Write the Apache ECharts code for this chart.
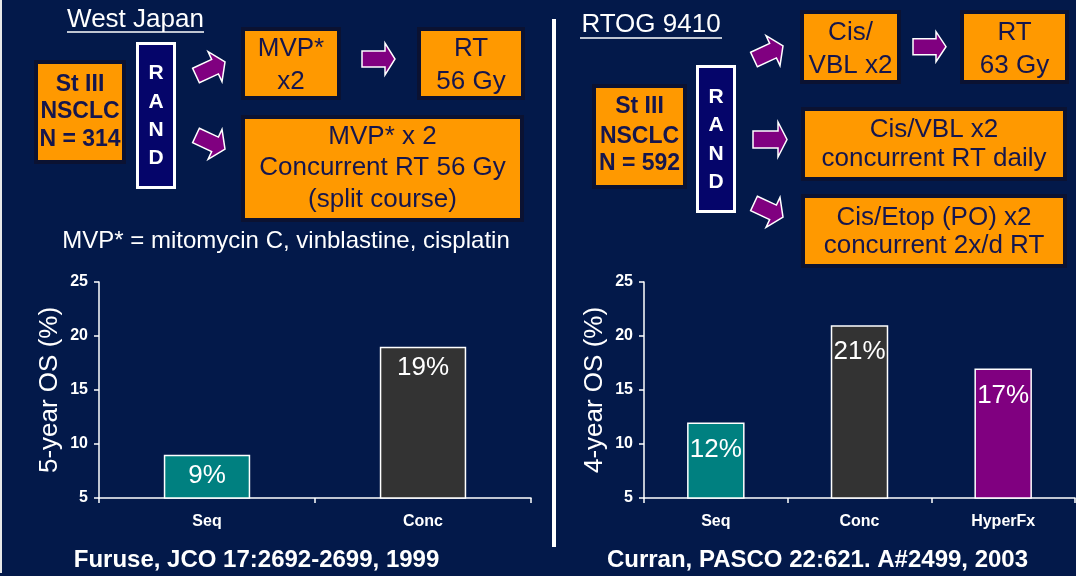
<!DOCTYPE html>
<html>
<head>
<meta charset="utf-8">
<script src="https://cdn.jsdelivr.net/npm/echarts@6/dist/echarts.min.js"></script>
<style>
  html, body { margin: 0; padding: 0; background: #03194a; }
  #chart-container { width: 1076px; height: 576px; }
</style>
</head>
<body>
<div id="chart-container"></div>
<script>
// data
var westCats = ['Seq', 'Conc'];
var westOS = [9, 19];
var rtogCats = ['Seq', 'Conc', 'HyperFx'];
var rtogOS = [12, 21, 17];
var barColors = ['#008080', '#333333', '#800080'];
var yMin = 5, yMax = 25, yStep = 5;

var FONT = 'Arial, "Liberation Sans", sans-serif';
var ORANGE = '#ff9900';
var INK = '#15164d';

var dom = document.getElementById('chart-container');
var myChart = echarts.init(dom, null, { renderer: 'canvas', useDirtyRect: false });

var graphics = [];

function txt(x, y, s, size, color, bold) {
    graphics.push({
        type: 'text', x: x, y: y,
        style: { text: s, fill: color, font: (bold ? 'bold ' : '') + size + 'px ' + FONT,
                 align: 'center', verticalAlign: 'middle' }
    });
}

function box(x, y, w, h, lines, ys, bold, size) {
    graphics.push({
        type: 'rect', shape: { x: x, y: y, width: w, height: h },
        style: { fill: ORANGE, stroke: '#0b1232', lineWidth: 4 }
    });
    for (var i = 0; i < lines.length; i++) {
        txt(x + w / 2, ys[i], lines[i], size, INK, bold);
    }
}

function rand(x, y, w, h, ys) {
    graphics.push({
        type: 'rect', shape: { x: x, y: y, width: w, height: h },
        style: { fill: '#05056a', stroke: '#ffffff', lineWidth: 3 }
    });
    var letters = ['R', 'A', 'N', 'D'];
    for (var i = 0; i < 4; i++) txt(x + w / 2, ys[i], letters[i], 21, '#ffffff', true);
}

// block arrow: tail middle at (tx,ty), length, angle in degrees (clockwise on screen)
function arrow(tx, ty, len, deg, sh, hh, hl) {
    var a = deg * Math.PI / 180, c = Math.cos(a), s = Math.sin(a);
    var local = [[0, -sh], [len - hl, -sh], [len - hl, -hh], [len, 0], [len - hl, hh], [len - hl, sh], [0, sh]];
    var pts = local.map(function (p) {
        return [tx + p[0] * c - p[1] * s, ty + p[0] * s + p[1] * c];
    });
    graphics.push({
        type: 'polygon', shape: { points: pts },
        style: { fill: '#800080', stroke: '#ffffff', lineWidth: 1.5 }
    });
}

function underlined(cx, y, s, uy, half) {
    txt(cx, y, s, 26, '#ffffff', false);
    graphics.push({
        type: 'line', shape: { x1: cx - half, y1: uy, x2: cx + half, y2: uy },
        style: { stroke: '#ffffff', lineWidth: 1.5 }
    });
}

// frame lines
graphics.push({ type: 'rect', shape: { x: 0, y: 0, width: 2, height: 573 }, style: { fill: '#e8e8e8' } });
graphics.push({ type: 'rect', shape: { x: 552, y: 19, width: 4, height: 528 }, style: { fill: '#ffffff' } });

// West Japan scheme
underlined(135.5, 20, 'West Japan', 32, 68.5);
box(36, 62, 88, 100, ['St III', 'NSCLC', 'N = 314'], [85, 112, 140], true, 23);
rand(137.5, 43.5, 37, 144, [73, 102, 130, 158]);
arrow(196, 75.5, 32, -25, 8, 16.5, 11);
arrow(196, 135.5, 32, 25, 8, 16.5, 11);
box(243, 29, 96, 69, ['MVP*', 'x2'], [49, 82], false, 26);
arrow(362, 59, 33, 0, 8, 16, 10);
box(419, 29, 104, 69, ['RT', '56 Gy'], [49, 82], false, 26);
box(243, 117, 279, 103, ['MVP* x 2', 'Concurrent RT 56 Gy', '(split course)'], [137, 168, 200], false, 26);
txt(286, 241, 'MVP* = mitomycin C, vinblastine, cisplatin', 24, '#ffffff', false);

// RTOG 9410 scheme
underlined(651, 25, 'RTOG 9410', 38, 71);
box(594, 86, 91, 101, ['St III', 'NSCLC', 'N = 592'], [107, 136.5, 164], true, 23);
rand(697.5, 66.5, 37, 145, [97, 125.5, 154, 182.5]);
arrow(754, 59.5, 32, -25, 8, 16.5, 11);
arrow(753, 139.5, 34, 0, 8.5, 17.5, 9);
arrow(754, 203.5, 32, 25, 8, 16.5, 11);
box(802, 12, 97, 70, ['Cis/', 'VBL x2'], [33, 66], false, 26);
arrow(913, 46.7, 33, 0, 8, 15, 10);
box(962, 12, 105, 70, ['RT', '63 Gy'], [33, 66], false, 26);
box(803, 109, 262, 70, ['Cis/VBL x2', 'concurrent RT daily'], [130, 159], false, 26);
box(803, 196, 262, 70, ['Cis/Etop (PO) x2', 'concurrent 2x/d RT'], [218, 246], false, 26);

// references
txt(256.5, 560, 'Furuse, JCO 17:2692-2699, 1999', 24, '#ffffff', true);
txt(817.5, 560, 'Curran, PASCO 22:621. A#2499, 2003', 24, '#ffffff', true);

function colored(vals) {
    return vals.map(function (v, i) {
        return { value: v, itemStyle: { color: barColors[i] } };
    });
}

var axisLine = { show: true, lineStyle: { color: '#ffffff', width: 1.5 } };
var axisTick = { show: true, length: 5, lineStyle: { color: '#ffffff', width: 1.5 } };

function yAxis(idx, name) {
    return {
        type: 'value', gridIndex: idx, min: yMin, max: yMax, interval: yStep,
        name: name, nameLocation: 'middle', nameGap: 36,
        nameTextStyle: { color: '#ffffff', fontSize: 26, fontFamily: FONT },
        axisLine: axisLine, axisTick: axisTick, splitLine: { show: false },
        axisLabel: { color: '#ffffff', fontSize: 16, fontWeight: 'bold', fontFamily: FONT, margin: 11 }
    };
}

function xAxis(idx, cats) {
    return {
        type: 'category', gridIndex: idx, data: cats,
        axisLine: axisLine, axisTick: axisTick,
        axisLabel: { color: '#ffffff', fontSize: 16, fontWeight: 'bold', fontFamily: FONT, margin: 16 }
    };
}

function barLabel(dist) {
    return {
        show: true, position: 'insideTop', distance: dist, color: '#ffffff',
        fontSize: 26, fontFamily: FONT, formatter: '{c}%'
    };
}

var option = {
    backgroundColor: '#03194a',
    animation: false,
    grid: [
        { left: 99, width: 432, top: 282, height: 216 },
        { left: 644, width: 431, top: 282, height: 216 }
    ],
    xAxis: [xAxis(0, westCats), xAxis(1, rtogCats)],
    yAxis: [yAxis(0, '5-year OS (%)'), yAxis(1, '4-year OS (%)')],
    series: [
        {
            type: 'bar', xAxisIndex: 0, yAxisIndex: 0, barWidth: '40%',
            data: colored(westOS),
            itemStyle: { borderColor: '#ffffff', borderWidth: 1.5 },
            label: barLabel(8)
        },
        {
            type: 'bar', xAxisIndex: 1, yAxisIndex: 1, barWidth: '40%',
            data: colored(rtogOS),
            itemStyle: { borderColor: '#ffffff', borderWidth: 1.5 },
            label: barLabel(14)
        }
    ],
    graphic: graphics
};

if (option && typeof option === 'object') {
    myChart.setOption(option);
}

window.addEventListener('resize', myChart.resize);
</script>
</body>
</html>
